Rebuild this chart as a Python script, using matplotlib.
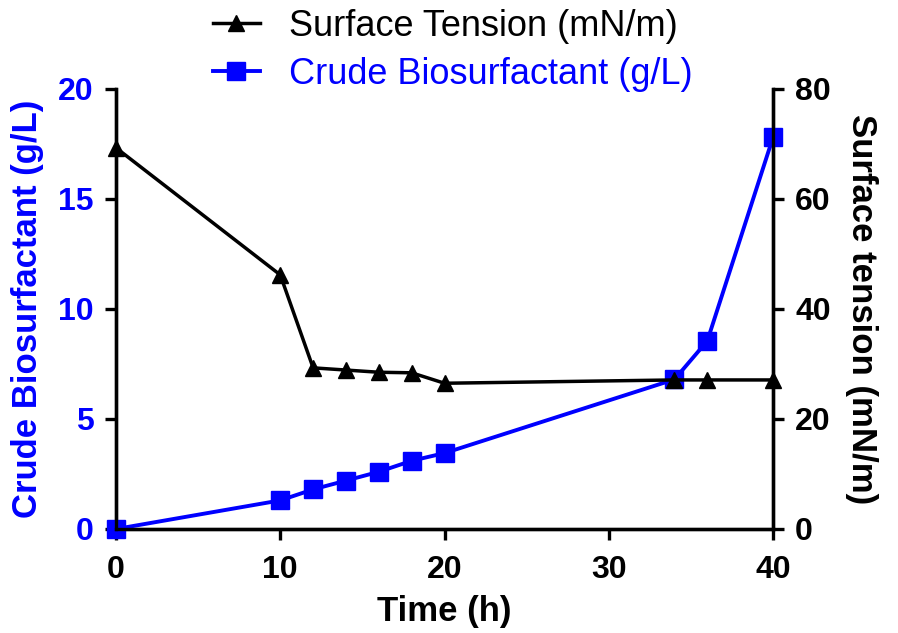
import matplotlib

matplotlib.use("Agg")
import matplotlib.pyplot as plt

plt.rcParams["font.family"] = ["Liberation Sans", "DejaVu Sans"]

# sampling times (h)
time_h = [0, 10, 12, 14, 16, 18, 20, 34, 36, 40]
# crude biosurfactant yield (g/L)
biosurfactant = [0.0, 1.3, 1.8, 2.2, 2.6, 3.1, 3.45, 6.8, 8.55, 17.8]
# surface tension of the broth (mN/m)
surface_tension = [69.3, 46.2, 29.3, 28.9, 28.5, 28.4, 26.5, 27.1, 27.1, 27.1]

BLUE = "#0000ff"
SPINE_W = 2.4

fig = plt.figure(figsize=(8.98, 6.33), dpi=100)
ax = fig.add_axes([0.1292, 0.1643, 0.7316, 0.6951])
ax2 = ax.twinx()

ax.plot(time_h, biosurfactant, color=BLUE, lw=2.8, marker="s", ms=13.5,
        clip_on=False, zorder=3, label="Crude Biosurfactant (g/L)")
ax2.plot(time_h, surface_tension, color="black", lw=2.5, marker="^", ms=12,
         clip_on=False, zorder=4, label="Surface Tension (mN/m)")

ax.set_xlim(0, 40)
ax.set_ylim(0, 20)
ax2.set_ylim(0, 80)
ax.set_xticks([0, 10, 20, 30, 40])
ax.set_yticks([0, 5, 10, 15, 20])
ax2.set_yticks([0, 20, 40, 60, 80])

for a in (ax, ax2):
    a.spines["top"].set_visible(False)
    for s in a.spines.values():
        s.set_linewidth(SPINE_W)
    a.tick_params(width=SPINE_W, length=8, labelsize=23, direction="out", pad=8)
    for lbl in a.get_xticklabels() + a.get_yticklabels():
        lbl.set_fontweight("bold")
ax.tick_params(axis="x", pad=11)

for lbl in ax.get_yticklabels():
    lbl.set_color(BLUE)

ax.set_xlabel("Time (h)", fontsize=25, fontweight="bold", labelpad=7)
ax.set_ylabel("Crude Biosurfactant (g/L)", fontsize=25, fontweight="bold",
              color=BLUE, labelpad=10)
ax2.set_ylabel("Surface tension (mN/m)", fontsize=25, fontweight="bold",
               rotation=270, labelpad=34)

h1, l1 = ax2.get_legend_handles_labels()
h2, l2 = ax.get_legend_handles_labels()
fig.legend(h1 + h2, l1 + l2, loc="upper left",
           bbox_to_anchor=(213 / 898, 1 - 9 / 633), frameon=False,
           fontsize=26, handlelength=1.3, handletextpad=0.8,
           labelspacing=0.36, borderpad=0, borderaxespad=0,
           labelcolor="linecolor")

fig.savefig("out.png", dpi=100)
